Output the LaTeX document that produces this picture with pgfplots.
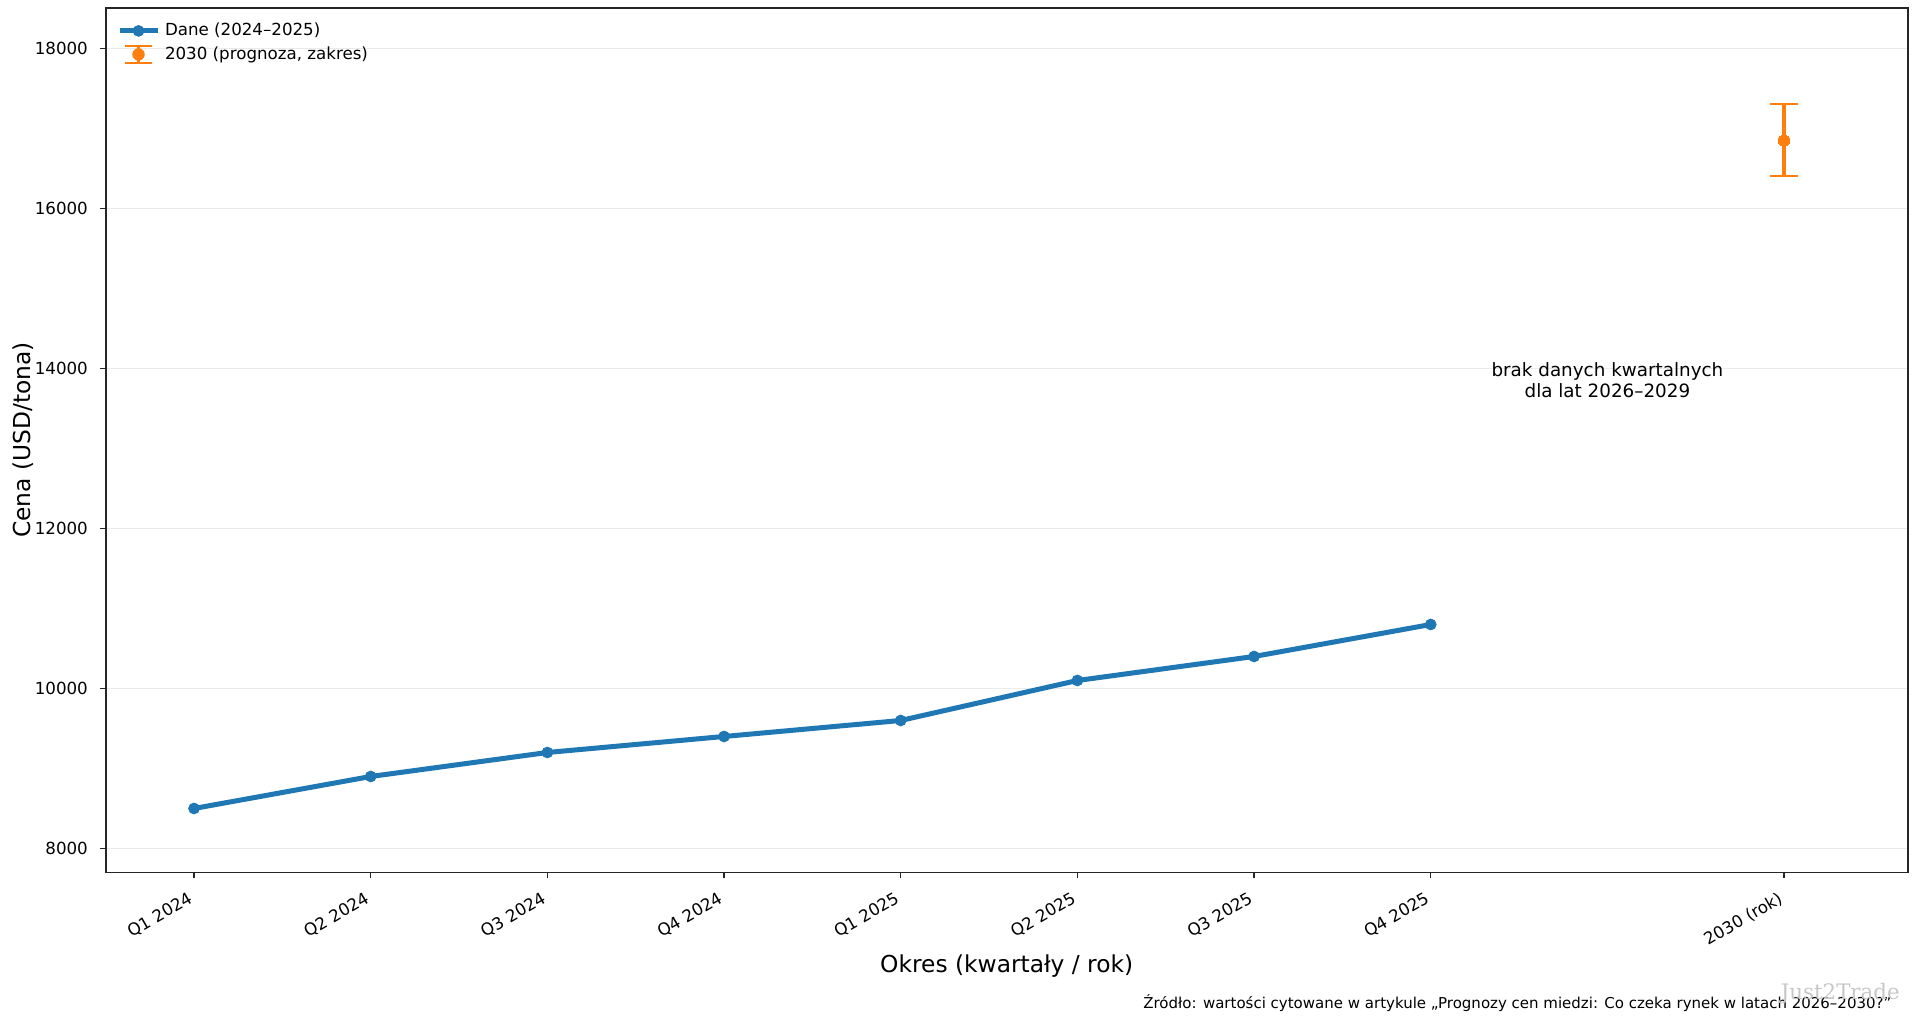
\documentclass[border=0pt]{standalone}
\usepackage{pgfplots}
\pgfplotsset{compat=1.18}
\usepackage{fontspec}
\setmainfont{DejaVu Sans}
\newfontfamily\wmfont{DejaVu Serif}
\definecolor{c0}{HTML}{1F77B4}
\definecolor{c1}{HTML}{FF7F0E}
\definecolor{gridc}{HTML}{EBEBEB}
\definecolor{spine}{HTML}{262626}
\pgfplotsset{
  widelinelegend/.style={legend image code/.code={\draw[mark repeat=2,mark phase=2,##1] plot coordinates {(0pt,0pt) (11.4pt,0pt) (22.8pt,0pt)};}},
  errlegend/.style={legend image code/.code={
    \draw[c1, line width=2pt] (11.4pt,-5pt)--(11.4pt,5pt);
    \draw[c1, line width=1.2pt] (3.3pt,-5pt)--(19.5pt,-5pt) (3.3pt,5pt)--(19.5pt,5pt);
    \fill[c1] (11.4pt,0pt) circle (3.5pt);}},
}
\begin{document}
\begin{tikzpicture}
\path[use as bounding box, fill=white] (0pt,0pt) rectangle (1152pt,614.4pt);
\begin{axis}[
  at={(63.42pt,90.9pt)}, anchor=south west,
  scale only axis, width=1081.2pt, height=518.88pt,
  xmin=-0.5, xmax=9.7, ymin=7700, ymax=18510,
  xtick={0,1,2,3,4,5,6,7,9},
  xticklabels={Q1 2024,Q2 2024,Q3 2024,Q4 2024,Q1 2025,Q2 2025,Q3 2025,Q4 2025,2030 (rok)},
  ytick={8000,10000,12000,14000,16000,18000},
  scaled y ticks=false,
  /pgf/number format/1000 sep={},
  /pgf/number format/assume math mode=true,
  tick pos=left, tick align=outside, major tick length=3.5pt,
  every tick/.style={spine, line width=0.8pt},
  axis line style={spine, line width=1pt},
  ymajorgrids, grid style={gridc, line width=0.8pt},
  tick label style={font=\fontsize{10}{12}\selectfont},
  yticklabel style={inner sep=0pt, anchor=east, xshift=-7pt},
  xticklabel style={inner sep=0pt, xshift=-4pt, yshift=-7.5pt, rotate=30, anchor=north east},
  xlabel={Okres (kwartały / rok)},
  ylabel={Cena (USD/tona)},
  xlabel style={font=\fontsize{14}{16.8}\selectfont, at={(axis description cs:0.5,-0.1151)}, anchor=base},
  ylabel style={font=\fontsize{14}{16.8}\selectfont, at={(axis description cs:-0.0459,0.5)}, anchor=center},
  legend style={at={(axis description cs:0,1)}, anchor=north west, xshift=3.6pt, yshift=-4.2pt,
    draw=none, fill=none,
    font=\fontsize{10}{12}\selectfont, row sep=1pt, inner sep=3pt,
    /tikz/every odd column/.append style={column sep=1pt}},
  legend cell align=left,
]
\addplot[c0, line width=3pt, line join=round, mark=*, mark size=3.3pt,
  mark options={solid, fill=c0, draw=c0, line width=0.4pt}, widelinelegend]
  coordinates {(0,8500) (1,8900) (2,9200) (3,9400) (4,9600) (5,10100) (6,10400) (7,10800)};
\addlegendentry{Dane (2024–2025)}
\addplot[c1, only marks, mark=*, mark size=3.5pt, mark options={fill=c1, draw=c1, line width=0pt},
  errlegend,
  error bars/.cd, y dir=both, y explicit,
  error bar style={c1, line width=2pt},
  error mark options={c1, line width=1.2pt, mark size=8.3pt, rotate=90}]
  coordinates {(9,16850) +- (0,450)};
\addlegendentry{2030 (prognoza, zakres)}
\node[align=center, font=\fontsize{11}{12.5}\selectfont] at (axis cs:8,13850) {brak danych kwartalnych\\dla lat 2026–2029};
\end{axis}
\node[anchor=base east, font=\fontsize{9}{11}\selectfont, inner sep=0pt] at (1135pt,9pt) {Źródło: wartości cytowane w artykule „Prognozy cen miedzi: Co czeka rynek w latach 2026–2030?”};
\node[anchor=base east, font=\wmfont\fontsize{12.8}{15}\selectfont, text=black!22, inner sep=0pt] at (1140pt,14.4pt) {Just2Trade};
\end{tikzpicture}
\end{document}
